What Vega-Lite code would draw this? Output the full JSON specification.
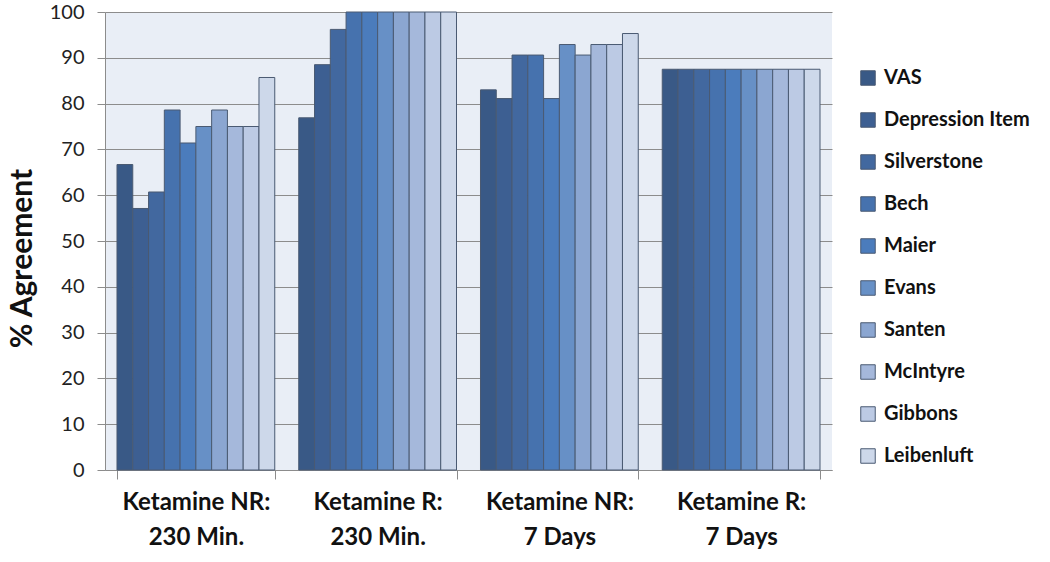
{
  "$schema": "https://vega.github.io/schema/vega-lite/v6.json",
  "autosize": "none",
  "width": 727,
  "height": 458,
  "padding": {"left": 105, "top": 12, "right": 218, "bottom": 92},
  "background": "white",
  "config": {
    "font": "Lato",
    "view": {"fill": "#E9EEF6", "stroke": null}
  },
  "data": {
    "values": [
      {"group": "Ketamine NR: 230 Min.", "measure": "VAS", "value": 66.7},
      {"group": "Ketamine NR: 230 Min.", "measure": "Depression Item", "value": 57.1},
      {"group": "Ketamine NR: 230 Min.", "measure": "Silverstone", "value": 60.7},
      {"group": "Ketamine NR: 230 Min.", "measure": "Bech", "value": 78.6},
      {"group": "Ketamine NR: 230 Min.", "measure": "Maier", "value": 71.4},
      {"group": "Ketamine NR: 230 Min.", "measure": "Evans", "value": 75.0},
      {"group": "Ketamine NR: 230 Min.", "measure": "Santen", "value": 78.6},
      {"group": "Ketamine NR: 230 Min.", "measure": "McIntyre", "value": 75.0},
      {"group": "Ketamine NR: 230 Min.", "measure": "Gibbons", "value": 75.0},
      {"group": "Ketamine NR: 230 Min.", "measure": "Leibenluft", "value": 85.7},
      {"group": "Ketamine R: 230 Min.", "measure": "VAS", "value": 76.9},
      {"group": "Ketamine R: 230 Min.", "measure": "Depression Item", "value": 88.5},
      {"group": "Ketamine R: 230 Min.", "measure": "Silverstone", "value": 96.2},
      {"group": "Ketamine R: 230 Min.", "measure": "Bech", "value": 100},
      {"group": "Ketamine R: 230 Min.", "measure": "Maier", "value": 100},
      {"group": "Ketamine R: 230 Min.", "measure": "Evans", "value": 100},
      {"group": "Ketamine R: 230 Min.", "measure": "Santen", "value": 100},
      {"group": "Ketamine R: 230 Min.", "measure": "McIntyre", "value": 100},
      {"group": "Ketamine R: 230 Min.", "measure": "Gibbons", "value": 100},
      {"group": "Ketamine R: 230 Min.", "measure": "Leibenluft", "value": 100},
      {"group": "Ketamine NR: 7 Days", "measure": "VAS", "value": 83.0},
      {"group": "Ketamine NR: 7 Days", "measure": "Depression Item", "value": 81.1},
      {"group": "Ketamine NR: 7 Days", "measure": "Silverstone", "value": 90.6},
      {"group": "Ketamine NR: 7 Days", "measure": "Bech", "value": 90.6},
      {"group": "Ketamine NR: 7 Days", "measure": "Maier", "value": 81.1},
      {"group": "Ketamine NR: 7 Days", "measure": "Evans", "value": 92.9},
      {"group": "Ketamine NR: 7 Days", "measure": "Santen", "value": 90.6},
      {"group": "Ketamine NR: 7 Days", "measure": "McIntyre", "value": 92.9},
      {"group": "Ketamine NR: 7 Days", "measure": "Gibbons", "value": 92.9},
      {"group": "Ketamine NR: 7 Days", "measure": "Leibenluft", "value": 95.3},
      {"group": "Ketamine R: 7 Days", "measure": "VAS", "value": 87.5},
      {"group": "Ketamine R: 7 Days", "measure": "Depression Item", "value": 87.5},
      {"group": "Ketamine R: 7 Days", "measure": "Silverstone", "value": 87.5},
      {"group": "Ketamine R: 7 Days", "measure": "Bech", "value": 87.5},
      {"group": "Ketamine R: 7 Days", "measure": "Maier", "value": 87.5},
      {"group": "Ketamine R: 7 Days", "measure": "Evans", "value": 87.5},
      {"group": "Ketamine R: 7 Days", "measure": "Santen", "value": 87.5},
      {"group": "Ketamine R: 7 Days", "measure": "McIntyre", "value": 87.5},
      {"group": "Ketamine R: 7 Days", "measure": "Gibbons", "value": 87.5},
      {"group": "Ketamine R: 7 Days", "measure": "Leibenluft", "value": 87.5}
    ]
  },
  "mark": {"type": "bar", "stroke": "#4A5A72", "strokeWidth": 1},
  "encoding": {
    "x": {
      "field": "group",
      "type": "nominal",
      "sort": null,
      "scale": {"paddingInner": 0.132, "paddingOuter": 0.066},
      "axis": {
        "title": null,
        "labelAngle": 0,
        "labelFont": "Lato",
        "labelFontWeight": "bold",
        "labelFontSize": 24,
        "labelColor": "#111111",
        "labelLineHeight": 35,
        "labelPadding": 11,
        "labelBaseline": "top",
        "labelLimit": 300,
        "labelExpr": "[slice(datum.label, 0, indexof(datum.label, ':') + 1), trim(slice(datum.label, indexof(datum.label, ':') + 1))]",
        "tickBand": "extent",
        "tickSize": 9,
        "tickColor": "#8C8C8C",
        "domainColor": "#8C8C8C",
        "grid": false
      }
    },
    "xOffset": {"field": "measure", "type": "nominal", "sort": null, "scale": {"paddingInner": 0, "paddingOuter": 0}},
    "y": {
      "field": "value",
      "type": "quantitative",
      "scale": {"domain": [0, 100], "nice": false},
      "axis": {
        "title": "% Agreement",
        "titleFont": "Lato",
        "titleFontSize": 30,
        "titleFontWeight": "bold",
        "titleColor": "#111111",
        "titleX": -83,
        "titleY": 246,
        "titleAngle": -90,
        "titleAlign": "center",
        "titleBaseline": "middle",
        "values": [0, 10, 20, 30, 40, 50, 60, 70, 80, 90, 100],
        "labelFont": "Lato",
        "labelFontSize": 20,
        "labelColor": "#222222",
        "labelPadding": 13,
        "tickSize": 8,
        "tickColor": "#8C8C8C",
        "domainColor": "#8C8C8C",
        "gridColor": "#8C8C8C",
        "gridWidth": 1
      }
    },
    "color": {
      "field": "measure",
      "type": "nominal",
      "sort": null,
      "scale": {
        "domain": ["VAS", "Depression Item", "Silverstone", "Bech", "Maier", "Evans", "Santen", "McIntyre", "Gibbons", "Leibenluft"],
        "range": ["#395986", "#3D5F92", "#42689F", "#4672AE", "#4B7CBC", "#6790C6", "#8BA6D1", "#A5B8DB", "#BCCAE4", "#CDD8EA"]
      },
      "legend": {
        "title": null,
        "orient": "none",
        "legendX": 753,
        "legendY": 56,
        "symbolType": "square",
        "symbolSize": 210,
        "symbolStrokeColor": "#4A5A72",
        "symbolStrokeWidth": 1,
        "labelFont": "Lato",
        "labelFontWeight": "bold",
        "labelFontSize": 20,
        "labelColor": "#111111",
        "labelOffset": 6,
        "rowPadding": 22,
        "labelLimit": 300
      }
    }
  }
}
